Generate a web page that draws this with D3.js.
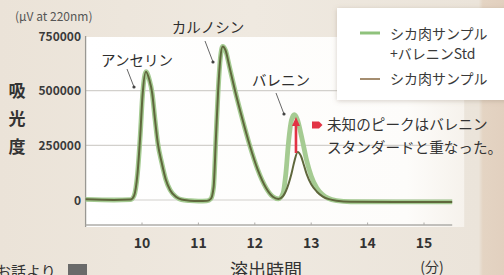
<!DOCTYPE html>
<html><head><meta charset="utf-8">
<script src="https://cdn.jsdelivr.net/npm/d3@7"></script>
<style>html,body{margin:0;padding:0;background:#ece5db;overflow:hidden}svg{display:block}</style>
</head><body>
<svg id="c" width="504" height="275"></svg>
<script>
// ---- data ----
const times = [9.0, 9.5, 9.8, 9.86, 9.92, 9.97, 10.01, 10.07, 10.13, 10.18, 10.23, 10.28, 10.35, 10.42, 10.5, 10.6, 10.7, 10.85, 11.0, 11.15, 11.22, 11.27, 11.31, 11.35, 11.39, 11.43, 11.48, 11.55, 11.65, 11.78, 11.91, 12.05, 12.2, 12.32, 12.42, 12.5, 12.55, 12.6, 12.65, 12.7, 12.76, 12.82, 12.87, 12.92, 13.0, 13.1, 13.2, 13.3, 13.45, 13.7, 14.5, 15.5];
const sampleStd = [3000, 0, 2000, 20000, 120000, 300000, 480000, 587000, 550000, 490000, 370000, 260000, 170000, 95000, 45000, 15000, 2000, -3000, -5000, -4000, 5000, 60000, 280000, 500000, 650000, 702000, 685000, 610000, 500000, 370000, 250000, 140000, 55000, 15000, 5000, 30000, 120000, 270000, 365000, 390000, 365000, 300000, 240000, 180000, 110000, 55000, 25000, 8000, -3000, -8000, -9000, -9000];
const sample = [3000, 0, 2000, 20000, 120000, 300000, 480000, 587000, 550000, 490000, 370000, 260000, 170000, 95000, 45000, 15000, 2000, -3000, -5000, -4000, 5000, 60000, 280000, 500000, 650000, 702000, 685000, 610000, 500000, 370000, 250000, 140000, 55000, 15000, 5000, 18000, 40000, 75000, 120000, 175000, 220000, 200000, 160000, 118000, 72000, 38000, 17000, 5000, -3000, -8000, -9000, -9000];
const yTicks = [0, 250000, 500000, 750000];
const xTicks = [10, 11, 12, 13, 14, 15];
const seriesNames = ["シカ肉サンプル", "+バレニンStd", "シカ肉サンプル"];
const peakLabels = [
  {name: "アンセリン", t: 10.07, v: 587000},
  {name: "カルノシン", t: 11.43, v: 702000},
  {name: "バレニン", t: 12.7, v: 390000}
];
const note = ["未知のピークはバレニン", "スタンダードと重なった。"];

// ---- layout ----
const svg = d3.select("#c");
const F = "'Noto Sans CJK JP','Noto Sans',sans-serif";
const x = d3.scaleLinear().domain([9, 15.5]).range([85.6, 452.2]);
const y = d3.scaleLinear().domain([0, 750000]).range([200, 36]);

// background
const defs = svg.append("defs");
const bg = defs.append("linearGradient").attr("id","bg").attr("x1","0").attr("x2","1").attr("y1","0").attr("y2","0");
bg.append("stop").attr("offset","0").attr("stop-color","#ebe3d8");
bg.append("stop").attr("offset","0.5").attr("stop-color","#efe9e0");
bg.append("stop").attr("offset","0.95").attr("stop-color","#ebe4da");
bg.append("stop").attr("offset","0.958").attr("stop-color","#e4d4c3");
bg.append("stop").attr("offset","1").attr("stop-color","#e2d0bf");
svg.append("rect").attr("width",504).attr("height",275).attr("fill","url(#bg)");
const sh = defs.append("filter").attr("id","sh").attr("x","-20%").attr("y","-20%").attr("width","140%").attr("height","150%");
sh.append("feDropShadow").attr("dx",0).attr("dy",1).attr("stdDeviation",2.5).attr("flood-color","#8a7a66").attr("flood-opacity",0.35);
const pg = defs.append("linearGradient").attr("id","pg").attr("x1","0").attr("x2","1");
pg.append("stop").attr("offset","0").attr("stop-color","#ffffff");
pg.append("stop").attr("offset","0.85").attr("stop-color","#fdfcfa");
pg.append("stop").attr("offset","1").attr("stop-color","#f6f2ec");

// plot panel
svg.append("rect").attr("x", x(9)).attr("y", y(750000)+1).attr("width", x(15.5)-x(9)+12).attr("height", 227-y(750000)-1).attr("fill","url(#pg)");

// grid
svg.append("g").selectAll("line").data(yTicks.filter(d=>d<750000)).join("line")
  .attr("x1", x(9)).attr("x2", x(15.5)).attr("y1", d=>y(d)).attr("y2", d=>y(d))
  .attr("stroke","#d2d0cc").attr("stroke-width",1.2);

// axes lines
svg.append("line").attr("x1", x(9)).attr("x2", x(9)).attr("y1", y(750000)).attr("y2", 227).attr("stroke","#9a9893").attr("stroke-width",1.3);
svg.append("line").attr("x1", x(9)).attr("x2", x(15.5)).attr("y1", 225).attr("y2", 225).attr("stroke","#aeaca8").attr("stroke-width",1.3);
svg.append("g").selectAll("line").data(xTicks).join("line")
  .attr("x1", d=>x(d)).attr("x2", d=>x(d)).attr("y1", 222.5).attr("y2", 225).attr("stroke","#aeaca8").attr("stroke-width",1);

// y tick labels
svg.append("g").selectAll("text").data(yTicks).join("text")
  .attr("x", 81).attr("y", d=>y(d)+4.5).attr("text-anchor","end")
  .attr("font-family",F).attr("font-size",12).attr("font-weight","bold").attr("fill","#3a3a3a")
  .text(d=>d);
// x tick labels
svg.append("g").selectAll("text").data(xTicks).join("text")
  .attr("x", d=>x(d)).attr("y", 247.5).attr("text-anchor","middle")
  .attr("font-family",F).attr("font-size",14).attr("font-weight","bold").attr("fill","#333")
  .text(d=>d);

// lines
const pts = (vals) => times.map((t,i)=>[t, vals[i]]);
const line = d3.line().x(d=>x(d[0])).y(d=>y(d[1])).curve(d3.curveMonotoneX);
svg.append("path").attr("d", line(pts(sampleStd))).attr("fill","none").attr("stroke","#a5cb92").attr("stroke-width",4.8).attr("stroke-linejoin","round");
svg.append("path").attr("d", line(pts(sample))).attr("fill","none").attr("stroke","#5f673c").attr("stroke-width",2).attr("stroke-linejoin","round");

// red arrow
const ax = x(12.73);
const ay0 = y(215000), ay1 = y(375000);
svg.append("line").attr("x1", ax).attr("x2", ax).attr("y1", ay0).attr("y2", ay1+6).attr("stroke","#e23344").attr("stroke-width",2.6);
svg.append("path").attr("d", `M${ax-4},${ay1+8} L${ax},${ay1-1} L${ax+4},${ay1+8} Z`).attr("fill","#e23344");

// peak labels + pointers
const lblPos = [[137, 66], [208, 33], [281, 86]];
peakLabels.forEach((p,i)=>{
  svg.append("text").attr("x", lblPos[i][0]).attr("y", lblPos[i][1]).attr("text-anchor","middle")
    .attr("font-family",F).attr("font-size",14.5).attr("fill","#2e2e2e").text(p.name);
});
const ptr = [[127,69,134,87],[205,41,213,62],[276,93,284,114]];
ptr.forEach(p=>{
  svg.append("line").attr("x1",p[0]).attr("y1",p[1]).attr("x2",p[2]).attr("y2",p[3]).attr("stroke","#555").attr("stroke-width",0.9);
  svg.append("circle").attr("cx",p[2]).attr("cy",p[3]).attr("r",1.6).attr("fill","#444");
});

// note
svg.append("path").attr("d","M312,121.5 L319,121.5 L322.5,125 L319,128.5 L312,128.5 Z").attr("fill","#e23344");
note.forEach((s,i)=>{
  svg.append("text").attr("x", 327).attr("y", 130+i*22.5).attr("font-family",F).attr("font-size",14.6).attr("fill","#333").text(s);
});

// axis titles
svg.append("text").attr("x", 15).attr("y", 21).attr("font-family",F).attr("font-size",12).attr("fill","#555").text("(μV at 220nm)");
["吸","光","度"].forEach((c,i)=>{
  svg.append("text").attr("x", 17).attr("y", [91,119,147][i]+6).attr("text-anchor","middle")
    .attr("font-family",F).attr("font-size",17).attr("font-weight","bold").attr("fill","#333").text(c);
});
svg.append("text").attr("x", 266).attr("y", 277).attr("text-anchor","middle").attr("font-family",F).attr("font-size",18).attr("fill","#333").text("溶出時間");
svg.append("text").attr("x", 432).attr("y", 272).attr("text-anchor","middle").attr("font-family",F).attr("font-size",14).attr("fill","#333").text("(分)");

// bottom-left source
svg.append("text").attr("x", -4).attr("y", 277).attr("font-family",F).attr("font-size",15).attr("fill","#333").text("お話より");
svg.append("rect").attr("x",68).attr("y",264).attr("width",19).attr("height",14).attr("fill","#6a6a6a");

// legend
const lg = svg.append("g");
lg.append("rect").attr("x",337).attr("y",8).attr("width",180).attr("height",92).attr("fill","#ffffff").attr("filter","url(#sh)");
lg.append("line").attr("x1",360).attr("x2",380).attr("y1",33).attr("y2",33).attr("stroke","#8fc27c").attr("stroke-width",3);
lg.append("line").attr("x1",360).attr("x2",380).attr("y1",79).attr("y2",79).attr("stroke","#a48d70").attr("stroke-width",2);
[[seriesNames[0],38.5],[seriesNames[1],59],[seriesNames[2],84]].forEach(d=>{
  lg.append("text").attr("x",390).attr("y",d[1]).attr("font-family",F).attr("font-size",14).attr("fill","#3a3a3a").text(d[0]);
});
</script>
</body></html>
